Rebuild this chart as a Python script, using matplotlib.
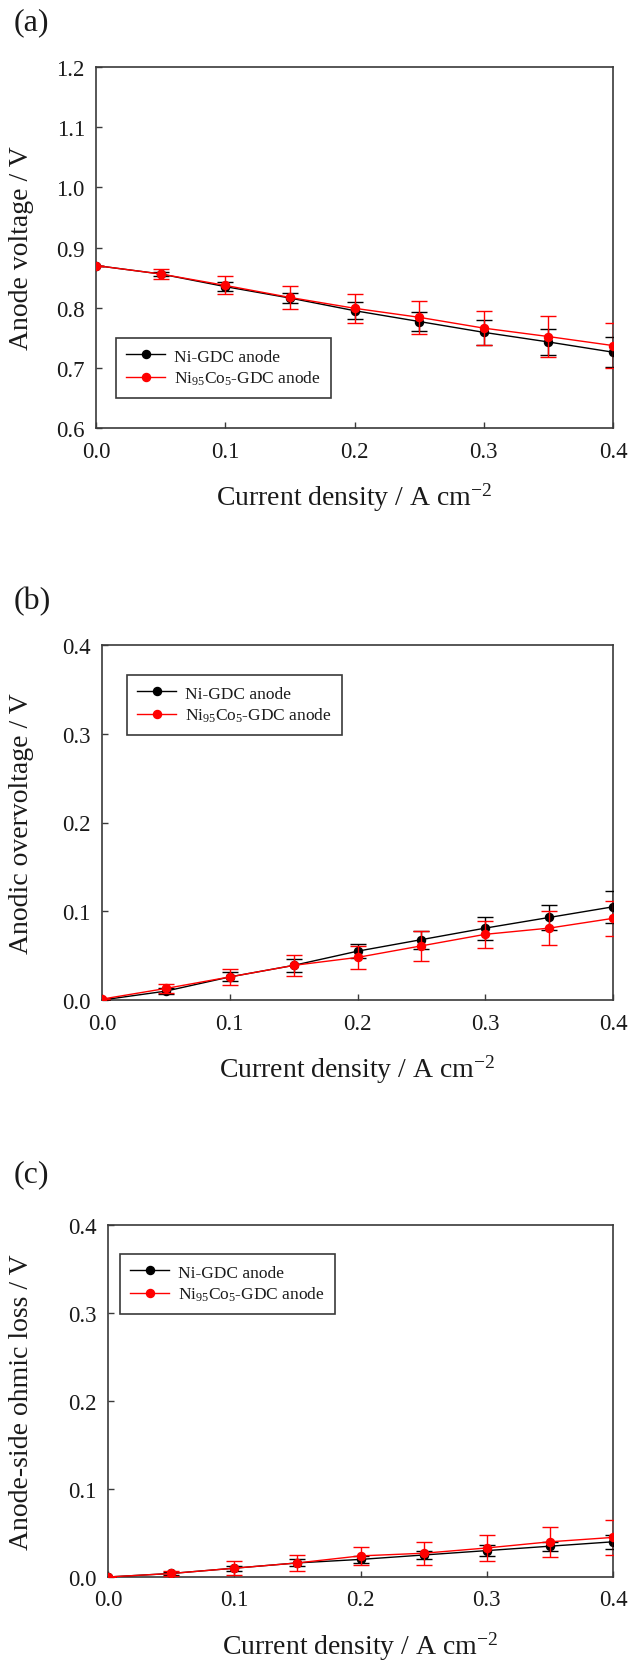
import matplotlib
matplotlib.use("Agg")
import matplotlib.pyplot as plt
import matplotlib.ticker as mticker

plt.rcParams['font.family'] = ['Liberation Serif', 'DejaVu Serif']
plt.rcParams['mathtext.fontset'] = 'custom'
plt.rcParams['mathtext.rm'] = 'Liberation Serif'
plt.rcParams['mathtext.it'] = 'Liberation Serif:italic'

# ---------------- data ----------------
current = [0.0, 0.05, 0.10, 0.15, 0.20, 0.25, 0.30, 0.35, 0.40]
series_labels = ["Ni-GDC anode", "Ni$_{95}$Co$_{5}$-GDC anode"]

# (a) anode voltage
a_ni = [0.870, 0.856, 0.835, 0.816, 0.795, 0.777, 0.759, 0.743, 0.726]
a_ni_err = [0.0, 0.004, 0.007, 0.008, 0.014, 0.016, 0.021, 0.021, 0.025]
a_co = [0.870, 0.856, 0.837, 0.817, 0.799, 0.784, 0.766, 0.752, 0.737]
a_co_err = [0.0, 0.009, 0.015, 0.019, 0.024, 0.027, 0.028, 0.034, 0.037]

# (b) anodic overvoltage
b_ni = [0.000, 0.010, 0.026, 0.039, 0.055, 0.068, 0.081, 0.093, 0.105]
b_ni_err = [0.0, 0.003, 0.005, 0.007, 0.008, 0.010, 0.013, 0.014, 0.018]
b_co = [0.001, 0.013, 0.026, 0.039, 0.048, 0.061, 0.074, 0.081, 0.092]
b_co_err = [0.0, 0.005, 0.009, 0.012, 0.013, 0.017, 0.015, 0.019, 0.020]

# (c) anode-side ohmic loss
c_ni = [0.000, 0.004, 0.010, 0.016, 0.020, 0.025, 0.030, 0.035, 0.040]
c_ni_err = [0.0, 0.002, 0.003, 0.004, 0.004, 0.005, 0.006, 0.005, 0.008]
c_co = [0.000, 0.004, 0.010, 0.016, 0.024, 0.027, 0.033, 0.040, 0.045]
c_co_err = [0.0, 0.003, 0.008, 0.009, 0.010, 0.013, 0.015, 0.017, 0.020]

panel_letters = ["(a)", "(b)", "(c)"]
y_labels = ["Anode voltage / V", "Anodic overvoltage / V", "Anode-side ohmic loss / V"]
x_label = "Current density / A cm$^{-2}$"
x_ticks = [0.0, 0.1, 0.2, 0.3, 0.4]
y_ticks_a = [0.6, 0.7, 0.8, 0.9, 1.0, 1.1, 1.2]
y_ticks_bc = [0.0, 0.1, 0.2, 0.3, 0.4]

W, H = 629, 1665
fig = plt.figure(figsize=(W / 100, H / 100), dpi=100)

# pixel boxes: left, right, top, bottom
boxes = [(96, 613, 68, 429), (102, 613, 646, 1001), (108, 613, 1226, 1578)]
letter_y = [23, 602, 1175]
# legend boxes in pixels: left, top
legend_px = [(116, 339), (127, 676), (120, 1255)]

data = [(a_ni, a_ni_err, a_co, a_co_err, y_ticks_a),
        (b_ni, b_ni_err, b_co, b_co_err, y_ticks_bc),
        (c_ni, c_ni_err, c_co, c_co_err, y_ticks_bc)]

frame_col = '#3a3a3a'
text_col = '#1a1a1a'

for i, ((l, r, t, b), (ni, nie, co, coe, yt)) in enumerate(zip(boxes, data)):
    aw, ah = r - l, b - t
    ax = fig.add_axes([l / W, 1 - b / H, aw / W, ah / H])
    e1 = ax.errorbar(current, ni, yerr=nie, color='black', marker='o', markersize=5.8,
                     linewidth=1.0, elinewidth=1.0, capsize=5.5, capthick=1.0,
                     zorder=3)
    e2 = ax.errorbar(current, co, yerr=coe, color='#ff0000', marker='o', markersize=5.8,
                     linewidth=1.0, elinewidth=1.0, capsize=5.5, capthick=1.0,
                     zorder=4)
    ax.set_xlim(0.0, 0.4)
    ax.set_ylim(yt[0], yt[-1])
    ax.set_xticks(x_ticks)
    ax.set_yticks(yt)
    ax.xaxis.set_major_formatter(mticker.FormatStrFormatter('%.1f'))
    ax.yaxis.set_major_formatter(mticker.FormatStrFormatter('%.1f'))
    ax.tick_params(direction='in', length=4, width=1.0, color=frame_col,
                   labelsize=16.5, labelcolor=text_col)
    ax.tick_params(axis='x', pad=9)
    ax.tick_params(axis='y', pad=8)
    for sp in ax.spines.values():
        sp.set_color(frame_col)
        sp.set_linewidth(1.2)
    ax.set_xlabel(x_label, fontsize=20, color=text_col)
    ax.xaxis.set_label_coords(0.5, -53 / ah)
    ax.set_ylabel(y_labels[i], fontsize=20, color=text_col)
    ax.yaxis.set_label_coords((34 - l) / aw, 0.5)
    lx, ly = legend_px[i]
    leg = ax.legend(handles=[e1.lines[0], e2.lines[0]], labels=series_labels,
                    loc='upper left', bbox_to_anchor=((lx - l) / aw, (b - ly) / ah),
                    borderaxespad=0, fontsize=12.5,
                    frameon=True, fancybox=False, edgecolor=frame_col,
                    handlelength=2.2, handletextpad=0.55, borderpad=0.6,
                    labelspacing=0.25, framealpha=1)
    leg.get_frame().set_linewidth(1.2)
    for txt in leg.get_texts():
        txt.set_color(text_col)
    fig.text(14 / W, 1 - letter_y[i] / H, panel_letters[i], fontsize=23,
             color=text_col, ha='left', va='center')

fig.savefig("out.png", dpi=100)
